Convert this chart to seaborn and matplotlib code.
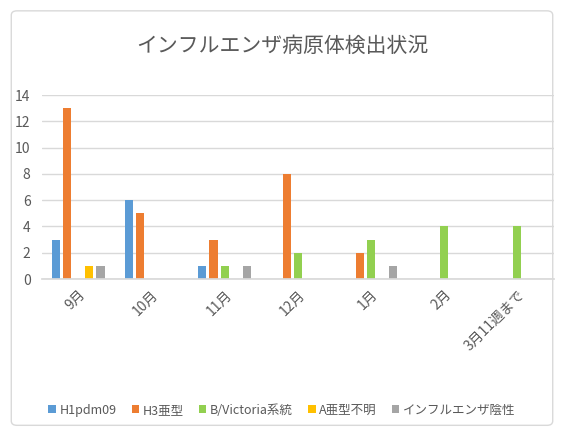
import matplotlib
matplotlib.use("Agg")
import matplotlib.pyplot as plt
from matplotlib.patches import FancyBboxPatch
import pandas as pd
import seaborn as sns

months = ["9月", "10月", "11月", "12月", "1月", "2月", "3月11週まで"]
series = ["H1pdm09", "H3亜型", "B/Victoria系統", "A亜型不明", "インフルエンザ陰性"]
h1pdm09 = [3, 6, 1, 0, 0, 0, 0]
h3 = [13, 5, 3, 8, 2, 0, 0]
b_victoria = [0, 0, 1, 2, 3, 4, 4]
a_unknown = [1, 0, 0, 0, 0, 0, 0]
negative = [1, 0, 1, 0, 1, 0, 0]
colors = ["#5B9BD5", "#ED7D31", "#92D050", "#FFC000", "#A5A5A5"]

rows = []
for name, vals in zip(series, [h1pdm09, h3, b_victoria, a_unknown, negative]):
    for m, v in zip(months, vals):
        rows.append({"month": m, "series": name, "count": v})
df = pd.DataFrame(rows)

sns.set_theme(style="white")
plt.rcParams["font.family"] = ["Noto Sans CJK JP", "DejaVu Sans"]
text_col = "#595959"

fig = plt.figure(figsize=(5.64, 4.34), dpi=100)
fig.patches.append(FancyBboxPatch((0.02, 0.02), 0.96, 0.955,
                                  boxstyle="round,pad=0,rounding_size=0.01",
                                  transform=fig.transFigure, fill=False,
                                  edgecolor="#D9D9D9", linewidth=1))
ax = fig.add_axes([0.074, 0.357, 0.908, 0.424])

sns.barplot(data=df, x="month", y="count", hue="series", hue_order=series,
            palette=colors, saturation=1, width=0.76, gap=0.27, ax=ax,
            linewidth=0)

ax.set_ylim(0, 14)
ax.set_yticks(range(0, 15, 2))
ax.yaxis.grid(True, color="#D9D9D9", linewidth=1)
ax.set_axisbelow(True)
for s in ["top", "right", "left"]:
    ax.spines[s].set_visible(False)
ax.spines["bottom"].set_color("#D9D9D9")
ax.set_xlabel("")
ax.set_ylabel("")
ax.tick_params(axis="both", length=0, labelsize=10, colors=text_col)
ax.tick_params(axis="y", pad=8)
ax.tick_params(axis="x", pad=6)
for lbl in ax.get_xticklabels():
    lbl.set_rotation(45)
    lbl.set_ha("right")
    lbl.set_rotation_mode("anchor")

fig.text(0.5, 0.895, "インフルエンザ病原体検出状況", ha="center", va="center",
         fontsize=15, color=text_col)

handles, labels = ax.get_legend_handles_labels()
ax.legend_.remove()
fig.legend(handles, labels, loc="center", bbox_to_anchor=(0.5, 0.055), ncol=5,
           frameon=False, fontsize=9, handlelength=0.6, handleheight=0.6,
           handletextpad=0.3, columnspacing=1.2, labelcolor=text_col)

fig.savefig("out.png", dpi=100)
